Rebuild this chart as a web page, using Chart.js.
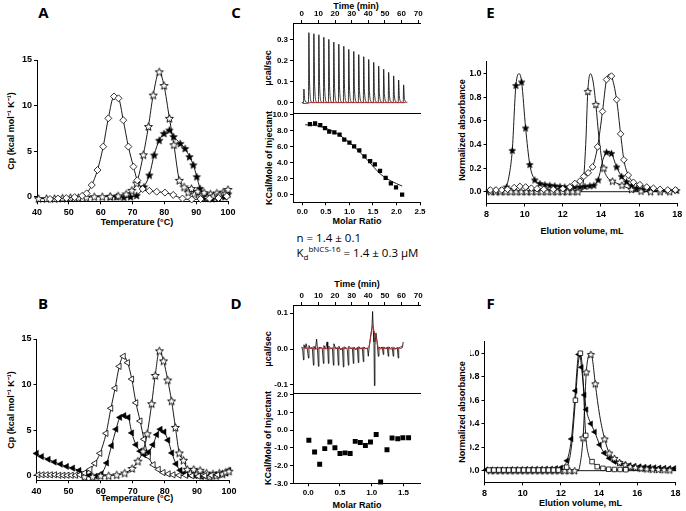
<!DOCTYPE html>
<html><head><meta charset="utf-8">
<script src="https://cdn.jsdelivr.net/npm/chart.js@4"></script>
<style>
body{margin:0;width:686px;height:511px;overflow:hidden;background:#fff;position:relative;font-family:"Liberation Sans",Arial,sans-serif;color:#000;}
canvas{position:absolute;}
.t{position:absolute;font-weight:bold;font-size:9px;white-space:nowrap;transform:translate(-50%,-50%);line-height:1;}
.r{transform:translate(-50%,-50%) rotate(-90deg);}
.p{position:absolute;font-family:"Open Sans";font-weight:700;font-size:15px;transform:translate(-50%,-50%);line-height:1;}
.n{position:absolute;font-family:"Open Sans";font-size:11.5px;white-space:nowrap;transform:translate(0,-50%);line-height:1;}
</style></head><body>
<div class="p" style="left:43.5px;top:12px">A</div>
<div class="p" style="left:43px;top:303px">B</div>
<div class="p" style="left:236px;top:12px">C</div>
<div class="p" style="left:236px;top:303px">D</div>
<div class="p" style="left:490.5px;top:12px">E</div>
<div class="p" style="left:490.5px;top:303px">F</div>

<div class="t" style="left:137px;top:221.5px">Temperature (°C)</div>
<div class="t r" style="left:11px;top:130.5px">Cp (kcal mol⁻¹ K⁻¹)</div>
<div class="t" style="left:137px;top:498px">Temperature (°C)</div>
<div class="t r" style="left:11px;top:410px">Cp (kcal mol⁻¹ K⁻¹)</div>

<div class="t" style="left:356px;top:6px">Time (min)</div>
<div class="t r" style="left:268px;top:68px">μcal/sec</div>
<div class="t r" style="left:269px;top:158px">KCal/Mole of Injectant</div>
<div class="t" style="left:357px;top:221px">Molar Ratio</div>
<div class="n" style="left:296.5px;top:237.7px">n = 1.4 ± 0.1</div>
<div class="n" style="left:296.5px;top:253px">K<sub style="font-size:8px">d</sub><sup style="font-size:8px">bNCS-16</sup> = 1.4 ± 0.3 μM</div>

<div class="t" style="left:357px;top:283.5px">Time (min)</div>
<div class="t r" style="left:268px;top:349px">μcal/sec</div>
<div class="t r" style="left:268px;top:438px">KCal/Mole of Injectant</div>
<div class="t" style="left:357px;top:505px">Molar Ratio</div>

<div class="t r" style="left:461.5px;top:130px">Normalized absorbance</div>
<div class="t" style="left:582px;top:231px">Elution volume, mL</div>
<div class="t r" style="left:462px;top:412px">Normalized absorbance</div>
<div class="t" style="left:580.5px;top:503px">Elution volume, mL</div>

<script>
// ---------- tick values ----------
const tempTicks=[40,50,60,70,80,90,100];
const cpTicks=[0,5,10,15];
const timeTicks=[0,10,20,30,40,50,60,70];
const ucalTicksC=[0,0.1,0.2,0.3];
const kcalTicksC=[0,2,4,6,8,10];
const ratioTicksC=[0,0.5,1,1.5,2,2.5];
const ucalTicksD=[-0.1,0,0.1];
const kcalTicksD=[-3,-2,-1,0,1,2];
const ratioTicksD=[0,0.5,1,1.5];
const elutionTicks=[8,10,12,14,16,18];
const absTicks=[0,0.2,0.4,0.6,0.8,1.0];

// ---------- Panel A (Temperature, Cp) ----------
const aOpenDiamond=[[44.1,-0.25],[46.6,-0.2],[49.2,-0.15],[51.8,-0.05],[54.2,0.1],[55.6,0.37],[57.2,1.28],[59.0,2.93],[60.8,5.5],[62.4,8.6],[64.2,11.0],[65.6,10.8],[67.1,8.4],[68.7,5.5],[70.3,3.3],[71.5,1.8],[73.2,0.85],[75.3,0.65],[77.6,0.55],[80.2,0.45],[82.8,0.2],[85.7,-0.2],[88.6,-0.3],[91.4,-0.25],[94.2,-0.2],[97,-0.15],[99.6,0.05]];
const aOpenStar=[[40.5,-0.2],[43,-0.2],[45.5,-0.2],[48,-0.15],[50.5,-0.1],[53,-0.1],[55.5,-0.05],[58,0],[60.5,0],[63,0.05],[65.5,0.1],[68,0.3],[69.8,0.7],[71.3,1.5],[73.4,4.6],[75.0,7.7],[76.5,11.15],[78.4,13.7],[79.9,12.2],[81.6,8.6],[83.0,5.7],[84.7,1.8],[86.2,1.07],[87.5,0.5],[88.5,0.9],[89.5,0.3],[90.5,0.6],[91.5,0.1],[92.5,0.45],[93.5,-0.1],[94.5,0.3],[95.5,0.1],[96.5,0.4],[97.5,0.2],[98.5,0.5],[99.3,0.4],[100,0.8]];
const aFilledStar=[[63,0],[65.0,0],[67.3,-0.05],[69.4,0],[71.3,0.15],[73.6,1.1],[75.3,2.38],[76.8,4.58],[78.4,6.2],[79.9,6.95],[81.6,7.32],[82.9,6.6],[85.0,5.85],[86.5,5.3],[87.9,4.4],[89.1,3.5],[90.2,2.2],[91.2,0.92],[92,0.2],[93,-0.15],[94,0.1],[95,-0.2],[96,0.1],[97,-0.1],[98,0.15],[99,0],[100,0.3]];

// ---------- Panel B ----------
const bOpenTri=[[40.5,0.1],[41.8,0.1],[43.1,0.1],[44.4,0.1],[45.7,0.1],[47,0.05],[48.3,0.05],[49.6,0.05],[50.9,0.05],[52.2,0.05],[53.5,0.1],[55,0.3],[56.7,0.7],[58.2,1.36],[59.8,2.46],[61.7,4.65],[63.2,7.4],[64.5,9.6],[65.8,12.0],[67.1,13.1],[68.4,12.4],[69.7,10.6],[71.0,8.0],[72.3,6.0],[73.5,4.0],[74.9,2.1],[76.4,1.2],[78.0,0.7],[79.5,0.35],[81.1,0.2],[82.6,0.1],[84.5,0.05],[86.5,0.05],[88.5,0],[90.5,-0.05],[92.5,0],[94.5,0.05],[96.5,0.1]];
const bOpenStar=[[55,-0.1],[57.5,-0.1],[60,0],[62.5,0],[65,0.1],[67.5,0.3],[69.8,0.8],[71.6,1.6],[73.2,2.7],[74.5,4.6],[75.9,7.9],[77.0,11.0],[78.3,13.7],[79.6,12.6],[80.9,10.5],[82.1,8.2],[83.3,5.3],[84.5,2.5],[85.8,1.7],[87,0.7],[88,0.3],[89,0.7],[90,0.2],[91,0.6],[92,0.1],[93,0.3],[94,-0.1],[95,0.2],[96,0],[97,0.3],[98,0.2],[99,0.4],[100,0.5]];
const bFilledTri=[[40,2.45],[41.6,2.1],[43.7,1.8],[45.6,1.5],[47.5,1.27],[49.4,1.02],[51.3,0.84],[53.3,0.58],[55.2,0.29],[56.6,0.05],[58.4,-0.05],[60.2,0.2],[61.9,1.4],[63.4,3.3],[64.8,5.1],[66.0,6.4],[67.3,6.6],[68.6,6.4],[69.7,4.7],[71.0,3.4],[72.3,2.7],[73.6,2.3],[75.0,2.6],[76.3,3.4],[77.5,4.5],[78.6,5.1],[79.8,4.8],[81.0,3.9],[82.2,2.5],[83.5,1.3],[84.8,0.6],[86.2,0.3],[87.8,0.1],[89.5,0],[91.5,-0.1],[93.5,0],[95.5,0.1],[97.5,0.2],[99,0.3],[100,0.6]];

// ---------- Panel C (ITC) ----------
const cRaw=[[0,0],[1,0],[1.25,0.065],[1.7,0.016],[2.8,0.002],
[4,0],[4.25,0.335],[4.7,0.084],[5.8,0.003],[7,0],[7.25,0.33],[7.7,0.083],[8.8,0.003],
[10,0],[10.25,0.325],[10.7,0.081],[11.8,0.003],[13,0],[13.25,0.313],[13.7,0.078],[14.8,0.003],
[16,0],[16.25,0.303],[16.7,0.076],[17.8,0.003],[19,0],[19.25,0.29],[19.7,0.073],[20.8,0.003],
[22,0],[22.25,0.28],[22.7,0.07],[23.8,0.003],[25,0],[25.25,0.27],[25.7,0.068],[26.8,0.003],
[28,0],[28.25,0.255],[28.7,0.064],[29.8,0.003],[31,0],[31.25,0.245],[31.7,0.061],[32.8,0.003],
[34,0],[34.25,0.23],[34.7,0.058],[35.8,0.003],[37,0],[37.25,0.22],[37.7,0.055],[38.8,0.003],
[40,0],[40.25,0.207],[40.7,0.052],[41.8,0.003],[43,0],[43.25,0.193],[43.7,0.048],[44.8,0.003],
[46,0],[46.25,0.175],[46.7,0.044],[47.8,0.003],[49,0],[49.25,0.16],[49.7,0.04],[50.8,0.003],
[52,0],[52.25,0.145],[52.7,0.036],[53.8,0.003],[55,0],[55.25,0.128],[55.7,0.032],[56.8,0.003],
[58,0],[58.25,0.108],[58.7,0.027],[59.8,0.003],[61,0],[61.25,0.085],[61.7,0.021],[62.8,0.003],[63.5,0]];
const cRawBase=[[0.5,-0.004],[3,-0.004],[5,0],[62.5,0]];
const cHeat=[[0.16,8.84],[0.27,8.92],[0.38,8.71],[0.48,8.34],[0.57,7.88],[0.68,7.80],[0.79,7.51],[0.89,6.89],[1.0,6.51],[1.10,6.02],[1.21,5.52],[1.32,4.77],[1.44,4.19],[1.54,3.78],[1.65,2.95],[1.77,2.07],[1.88,1.37],[1.99,0.87],[2.12,-0.04]];
const cFit=[[0.06,8.75],[0.2,8.7],[0.4,8.5],[0.6,8.05],[0.8,7.4],[1.0,6.5],[1.22,5.3],[1.4,4.2],[1.65,2.6],[1.8,1.95],[2.0,1.35],[2.12,1.04]];

// ---------- Panel D (ITC, no binding) ----------
const dRaw=[[0,0.005],[0.6,-0.005],[1,-0.03],[1.3,0.012],[2,0.003],[2.6,0.015],[3.3,0],[4,-0.025],[4.3,0.01],[5.2,0.002],[6.3,0.005],[7,-0.045],[7.3,0.008],[8.2,0],[8.9,0.028],[9.4,0.002],[10,-0.048],[10.3,0.005],[11.5,0.004],[12.3,0.002],[13,-0.04],[13.3,0.01],[14.3,0],[15.2,0.02],[15.6,0],[16,-0.04],[16.3,0.008],[17.5,0.002],[18.4,0.003],[19,-0.045],[19.3,0.015],[20.5,0],[21.4,0.004],[22,-0.045],[22.3,0.008],[23.5,-0.002],[24.4,0.004],[25,-0.05],[25.3,0.006],[26.5,0.004],[27.4,-0.002],[28,-0.045],[28.3,0.008],[29.5,0.002],[30.4,0.004],[31,-0.04],[31.3,0.006],[32.5,-0.002],[33.4,0.005],[34,-0.038],[34.3,0.007],[35.5,0],[36.4,0.004],[37,-0.035],[37.3,0.006],[38.5,0.001],[39.5,0.003],[40,-0.02],[40.6,0.01],[41.5,0.04],[42.2,0.06],[42.6,0.105],[43.0,0.05],[43.4,0.02],[43.7,-0.102],[44.0,0.01],[44.6,0.045],[45.3,0.02],[46,-0.02],[46.4,0.005],[47.5,0.003],[48.4,0.006],[49,-0.015],[49.3,0.006],[50.5,0],[51.4,0.006],[52,-0.02],[52.3,0.006],[53.5,0.002],[54.4,0.005],[55,-0.02],[55.3,0.005],[56.5,0],[57.4,0.005],[58,-0.025],[58.3,0.004],[59.5,0.002],[60.5,0.004],[61,0.02]];
const dRawSmooth=[[0,0.005],[2,0.002],[5,0.003],[8,0],[12,0.003],[16,0],[20,0.004],[24,0],[28,0.003],[32,0],[36,0.003],[39,0.002],[40.5,0.008],[41.5,0.035],[42.3,0.062],[42.8,0.066],[43.4,0.05],[44,0.038],[44.8,0.032],[45.6,0.012],[46.5,0],[50,0.003],[54,0],[58,0.003],[61,0.01]];
const dHeat=[[0.01,-0.57],[0.10,-1.23],[0.18,-1.92],[0.26,-1.04],[0.34,-0.67],[0.42,-0.99],[0.50,-1.32],[0.58,-1.28],[0.66,-1.32],[0.74,-0.63],[0.82,-0.69],[0.90,-0.87],[0.98,-0.67],[1.07,-0.24],[1.14,-2.93],[1.24,-1.10],[1.32,-0.44],[1.41,-0.48],[1.49,-0.43],[1.58,-0.43]];

// ---------- Panel E (SEC) ----------
const eFilledStarLine=[[8,0.01],[8.7,0.01],[9.0,0.03],[9.2,0.15],[9.35,0.35],[9.54,0.9],[9.72,1.0],[9.84,0.93],[10.05,0.54],[10.27,0.23],[10.53,0.10],[10.8,0.07],[11.3,0.055],[12,0.045],[12.9,0.04],[13.4,0.05],[13.7,0.065],[13.9,0.13],[14.1,0.27],[14.3,0.335],[14.42,0.34],[14.55,0.325],[14.82,0.21],[15.08,0.13],[15.34,0.085],[15.6,0.05],[16,0.025],[17,0.01],[18,0.01]];
const eFilledStar=[[8.14,0.01],[8.44,0.01],[8.73,0.01],[9.05,0.04],[9.35,0.35],[9.54,0.9],[9.84,0.93],[10.05,0.54],[10.27,0.23],[10.53,0.10],[10.8,0.07],[11.06,0.06],[11.32,0.055],[11.58,0.05],[11.85,0.045],[12.1,0.04],[12.37,0.04],[12.63,0.04],[12.9,0.04],[13.16,0.045],[13.42,0.05],[13.63,0.055],[13.86,0.1],[14.29,0.335],[14.55,0.325],[14.82,0.21],[15.08,0.13],[15.34,0.085],[15.6,0.05],[15.87,0.03],[16.18,0.02],[16.57,0.015],[17.1,0.01],[17.5,0.01],[17.97,0.01]];
const eOpenStarLine=[[8,0],[12.9,0],[13.05,0.05],[13.2,0.4],[13.31,0.85],[13.45,1.0],[13.6,0.92],[13.73,0.74],[13.9,0.45],[14.1,0.22],[14.3,0.13],[14.6,0.09],[15.0,0.06],[15.5,0.025],[16,0.005],[18,0]];
const eOpenStar=[[8.2,0],[8.47,0],[8.74,0],[9.01,0],[9.28,0],[9.55,0],[9.82,0],[10.09,0],[10.36,0],[10.63,0],[10.9,0],[11.17,0],[11.44,0],[11.71,0],[11.98,0],[12.25,0],[12.52,0],[12.79,0],[13.31,0.85],[13.73,0.74],[14.15,0.2],[14.6,0.09],[15.1,0.055],[15.6,0.02],[16.1,0.005],[16.6,0],[17.1,0],[17.6,0]];
const eDiamondLine=[[8,0.015],[9.1,0.02],[9.45,0.035],[9.8,0.045],[10.0,0.04],[10.3,0.03],[10.6,0.025],[11,0.02],[11.5,0.02],[12,0.025],[12.37,0.04],[12.63,0.07],[12.9,0.09],[13.1,0.13],[13.33,0.16],[13.56,0.21],[13.82,0.38],[14.08,0.68],[14.29,0.95],[14.45,0.995],[14.55,0.98],[14.82,0.78],[15.03,0.49],[15.2,0.27],[15.43,0.14],[15.7,0.08],[16.04,0.06],[16.4,0.04],[16.75,0.03],[17.1,0.02],[17.5,0.015],[18,0.015]];
const eDiamond=[[8.2,0.015],[8.5,0.015],[8.8,0.015],[9.1,0.02],[9.45,0.035],[9.75,0.045],[10.05,0.04],[10.35,0.03],[10.65,0.025],[11,0.02],[11.5,0.02],[12,0.025],[12.37,0.04],[12.63,0.07],[12.9,0.09],[13.1,0.13],[13.33,0.16],[13.56,0.21],[13.82,0.38],[14.08,0.68],[14.29,0.95],[14.55,0.98],[14.82,0.78],[15.03,0.49],[15.2,0.27],[15.43,0.14],[15.7,0.08],[16.04,0.06],[16.4,0.04],[16.75,0.03],[17.1,0.02],[17.5,0.015],[17.9,0.015]];

// ---------- Panel F (SEC) ----------
const fFilledTriLine=[[8,0.01],[11.5,0.015],[12.0,0.025],[12.2,0.05],[12.32,0.085],[12.55,0.27],[12.76,0.68],[12.9,0.97],[12.97,1.0],[13.08,0.88],[13.23,0.645],[13.33,0.52],[13.57,0.40],[13.77,0.33],[14.03,0.22],[14.27,0.15],[14.53,0.105],[14.8,0.077],[15.07,0.062],[15.5,0.045],[16,0.035],[16.5,0.03],[17,0.025],[17.5,0.02],[18,0.02]];
const fFilledTri=[[8.1,0.01],[8.36,0.01],[8.62,0.01],[8.88,0.01],[9.14,0.01],[9.4,0.012],[9.66,0.012],[9.92,0.012],[10.18,0.013],[10.44,0.014],[10.7,0.015],[10.96,0.015],[11.22,0.016],[11.48,0.016],[11.74,0.02],[12.0,0.025],[12.32,0.085],[12.55,0.27],[12.76,0.68],[12.93,0.99],[13.08,0.88],[13.23,0.645],[13.33,0.52],[13.57,0.40],[13.77,0.33],[14.03,0.22],[14.27,0.15],[14.53,0.105],[14.8,0.077],[15.07,0.062],[15.33,0.052],[15.59,0.045],[15.85,0.04],[16.11,0.035],[16.37,0.032],[16.63,0.03],[16.89,0.027],[17.15,0.025],[17.41,0.022],[17.67,0.02],[17.93,0.02]];
const fSquareLine=[[8,0.005],[12.0,0.005],[12.3,0.03],[12.55,0.2],[12.76,0.60],[12.9,0.9],[13.02,1.0],[13.12,0.88],[13.3,0.30],[13.45,0.13],[13.63,0.077],[13.9,0.034],[14.2,0.02],[14.6,0.01],[18,0.005]];
const fSquare=[[8.23,0.005],[8.49,0.005],[8.75,0.005],[9.01,0.005],[9.27,0.005],[9.53,0.005],[9.79,0.005],[10.05,0.005],[10.31,0.005],[10.57,0.005],[10.83,0.005],[11.09,0.005],[11.35,0.005],[11.61,0.005],[11.87,0.005],[12.3,0.03],[12.76,0.60],[13.02,1.0],[13.3,0.30],[13.63,0.077],[13.9,0.034],[14.2,0.02],[14.5,0.012],[14.8,0.01],[15.1,0.01],[15.4,0.008]];
const fOpenStarLine=[[8,0],[12.9,0],[13.0,0.05],[13.16,0.28],[13.33,0.84],[13.45,0.98],[13.55,1.0],[13.65,0.95],[13.8,0.74],[14.03,0.47],[14.29,0.27],[14.53,0.15],[14.8,0.105],[15.07,0.07],[15.37,0.05],[15.7,0.035],[16.2,0.02],[17,0.01],[18,0.005]];
const fOpenStar=[[8.3,0],[8.56,0],[8.82,0],[9.08,0],[9.34,0],[9.6,0],[9.86,0],[10.12,0],[10.38,0],[10.64,0],[10.9,0],[11.16,0],[11.42,0],[11.68,0],[11.94,0],[12.2,0],[12.46,0],[12.72,0],[13.16,0.28],[13.33,0.84],[13.57,0.99],[13.8,0.74],[14.29,0.27],[14.53,0.15],[14.8,0.105],[15.07,0.07],[15.37,0.05],[15.63,0.035],[15.9,0.028],[16.2,0.02],[16.5,0.015],[16.8,0.012],[17.1,0.01],[17.4,0.008],[17.7,0.006]];
const zeroLine=[[8,0],[18,0]];

// ---------- helpers ----------
const P=a=>a.map(([x,y])=>({x,y}));
const BLK='#000', RED='#b22a2a';
function starCanvas(R,filled){
  const s=2*Math.ceil(R)+3;const c=document.createElement('canvas');c.width=c.height=s;
  const g=c.getContext('2d');g.translate(s/2,s/2+R*0.1);g.beginPath();
  for(let i=0;i<10;i++){const r=i%2?R*0.45:R;const a=-Math.PI/2+i*Math.PI/5;g.lineTo(r*Math.cos(a),r*Math.sin(a));}
  g.closePath();g.fillStyle=filled?'#000':'#fff';g.fill();g.lineWidth=filled?0.5:0.9;g.strokeStyle='#000';g.stroke();return c;
}
const MK={
  oDia:{pointStyle:'rectRot',pointRadius:3.5,pointBackgroundColor:'#fff',pointBorderColor:BLK,pointBorderWidth:0.8},
  oStar:{pointStyle:starCanvas(4.2,false)},
  fStar:{pointStyle:starCanvas(4,true)},
  oStarS:{pointStyle:starCanvas(3.8,false)},
  fStarS:{pointStyle:starCanvas(3.6,true)},
  fTri:{pointStyle:'triangle',pointRotation:-90,pointRadius:3.6,pointBackgroundColor:BLK,pointBorderColor:BLK,pointBorderWidth:0.5},
  oTri:{pointStyle:'triangle',pointRotation:-90,pointRadius:3.6,pointBackgroundColor:'#fff',pointBorderColor:BLK,pointBorderWidth:0.8},
  fTriS:{pointStyle:'triangle',pointRotation:-90,pointRadius:3.2,pointBackgroundColor:BLK,pointBorderColor:BLK,pointBorderWidth:0.5},
  fSq:{pointStyle:'rect',pointRadius:3,pointBackgroundColor:BLK,pointBorderColor:BLK,pointBorderWidth:0},
  fSqD:{pointStyle:'rect',pointRadius:3.5,pointBackgroundColor:BLK,pointBorderColor:BLK,pointBorderWidth:0},
  oSq:{pointStyle:'rect',pointRadius:3.2,pointBackgroundColor:'#fff',pointBorderColor:BLK,pointBorderWidth:0.8},
  oDiaS:{pointStyle:'rectRot',pointRadius:3.3,pointBackgroundColor:'#fff',pointBorderColor:BLK,pointBorderWidth:0.8}
};
function series(data,mk){return Object.assign({data:P(data),borderColor:BLK,borderWidth:0.9,cubicInterpolationMode:'monotone',fill:false,clip:6,pointHoverRadius:0},mk);}
function line(data,w,color,smooth){return {data:P(data),borderColor:color||BLK,borderWidth:w||0.9,pointRadius:0,tension:0,cubicInterpolationMode:smooth?'monotone':'default',fill:false,clip:4};}
function marks(data,mk){return Object.assign({data:P(data),showLine:false,clip:6},mk);}
const fmt1=v=>(Math.abs(v)<1e-9?0:v).toFixed(1);
const fmt0=v=>String(Math.round(v));

function build(rect,area,cfg){
  const [cl,ct,cr,cb]=rect,[al,at,ar,ab]=area;
  const cv=document.createElement('canvas');const w=cr-cl,h=cb-ct;
  cv.width=w;cv.height=h;
  Object.assign(cv.style,{left:cl+'px',top:ct+'px',width:w+'px',height:h+'px'});
  document.body.appendChild(cv);
  const xTop=cfg.xPos==='top';
  const tf={family:'Liberation Sans',weight:'bold',size:cfg.fs||9};
  const grid={display:true,drawOnChartArea:false,drawTicks:true,tickLength:3,color:BLK,tickColor:BLK,tickWidth:1,lineWidth:1};
  const border={display:true,color:BLK,width:1};
  const scales={
    x:{type:'linear',position:xTop?'top':'bottom',min:cfg.xMin,max:cfg.xMax,
      afterBuildTicks:s=>{s.ticks=cfg.xTicks.map(v=>({value:v}));},
      afterFit:s=>{s.height=xTop?(at-ct):(cb-ab);},
      ticks:{font:tf,color:BLK,padding:cfg.xPad!=null?cfg.xPad:2,maxRotation:0,minRotation:0,autoSkip:false,callback:cfg.xFmt},
      grid:Object.assign({},grid,{tickLength:cfg.xTL||3}),border},
    y:{type:'linear',position:'left',min:cfg.yMin,max:cfg.yMax,
      afterBuildTicks:s=>{s.ticks=cfg.yTicks.map(v=>({value:v}));},
      afterFit:s=>{s.width=al-cl;},
      ticks:{font:tf,color:BLK,padding:2,autoSkip:false,callback:cfg.yFmt},
      grid,border}
  };
  if(cfg.edge){
    scales.x2={type:'linear',position:xTop?'bottom':'top',min:0,max:1,display:true,
      afterFit:s=>{s.height=0;},ticks:{display:false},grid:{display:false,drawTicks:false},border};
  }
  const padding={left:0,right:cr-ar,top:xTop?0:(at-ct),bottom:xTop?(cb-ab):0};
  new Chart(cv,{type:'line',data:{datasets:cfg.datasets},
    options:{responsive:false,maintainAspectRatio:false,animation:false,events:[],devicePixelRatio:1,
      layout:{padding},plugins:{legend:{display:false},tooltip:{enabled:false}},scales}});
}

// Panel A
build([0,50,240,236],[37,60,228,201.3],{xMin:40,xMax:100,xTicks:tempTicks,xFmt:fmt0,yMin:-0.5,yMax:15,yTicks:cpTicks,yFmt:fmt0,xPad:2.5,
  datasets:[series(aOpenDiamond,MK.oDia),series(aOpenStar,MK.oStar),series(aFilledStar,MK.fStar)]});
// Panel B
build([0,329,240,511],[36.5,339,229,480.3],{xMin:40,xMax:100,xTicks:tempTicks,xFmt:fmt0,yMin:-0.5,yMax:15,yTicks:cpTicks,yFmt:fmt0,xPad:2.5,
  datasets:[series(bOpenTri,MK.oTri),series(bOpenStar,MK.oStar),series(bFilledTri,MK.fTri)]});
// Panel C top (raw heat)
build([250,0,440,120],[293,23,420,113.3],{xPos:'top',xMin:-5.3,xMax:71.1,xTicks:timeTicks,xFmt:fmt0,yMin:-0.0507,yMax:0.3813,yTicks:ucalTicksC,yFmt:fmt1,fs:8,xPad:1.5,edge:true,
  datasets:[line(cRawBase,1,RED),line(cRaw,0.8,BLK,true)]});
// Panel C bottom (integrated heat)
build([250,108,440,236],[293,113.3,420,202.3],{xMin:-0.2,xMax:2.5,xTicks:ratioTicksC,xFmt:fmt1,yMin:-1,yMax:10,yTicks:kcalTicksC,yFmt:fmt1,fs:8,
  datasets:[marks(cHeat,MK.fSq),line(cFit,0.9,BLK,true)]});
// Panel D top
build([250,290,440,400],[293,305,420,393.3],{xPos:'top',xMin:-5.3,xMax:71.1,xTicks:timeTicks,xFmt:fmt0,yMin:-0.123,yMax:0.123,yTicks:ucalTicksD,yFmt:fmt1,fs:8,xPad:1.5,edge:true,
  datasets:[line(dRawSmooth,1,RED,true),line(dRaw,0.8,BLK)]});
// Panel D bottom
build([250,388,440,511],[293,393.3,420,483.3],{xMin:-0.24,xMax:1.76,xTicks:ratioTicksD,xFmt:fmt1,yMin:-3,yMax:2,yTicks:kcalTicksD,yFmt:fmt1,fs:8,
  datasets:[marks(dHeat,MK.fSqD)]});
// Panel E
build([470,50,686,236],[486.5,61.9,677.3,203.5],{xMin:8,xMax:18,xTicks:elutionTicks,xFmt:fmt0,yMin:-0.1,yMax:1.1,yTicks:absTicks,yFmt:fmt1,xPad:2.5,
  datasets:[marks(eDiamond,MK.oDiaS),marks(eOpenStar,MK.oStarS),marks(eFilledStar,MK.fStarS),
    line(eDiamondLine,0.9,BLK,true),line(eOpenStarLine,0.9,BLK,true),line(eFilledStarLine,0.9,BLK,true),line(zeroLine,0.9)]});
// Panel F
build([470,332,686,511],[484.5,341.5,675.5,482.4],{xMin:8,xMax:18,xTicks:elutionTicks,xFmt:fmt0,yMin:-0.1,yMax:1.1,yTicks:absTicks,yFmt:fmt1,xPad:2.5,
  datasets:[marks(fSquare,MK.oSq),marks(fOpenStar,MK.oStarS),marks(fFilledTri,MK.fTriS),
    line(fSquareLine,0.9,BLK,true),line(fOpenStarLine,0.9,BLK,true),line(fFilledTriLine,0.9,BLK,true),line(zeroLine,0.9)]});
</script>
</body></html>
